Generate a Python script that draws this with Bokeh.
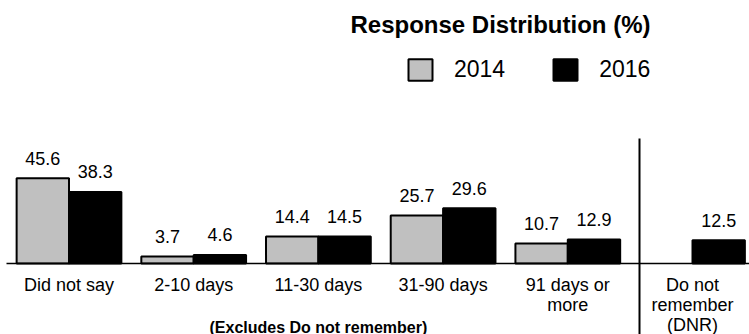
import math
from bokeh.plotting import figure
from bokeh.models import ColumnDataSource, Range1d, Label, Legend, LegendItem
from bokeh.transform import dodge
from bokeh.core.properties import value
from bokeh.embed import file_html
from bokeh.resources import INLINE

# ---- data ----
categories = ["Did not say", "2-10 days", "11-30 days", "31-90 days",
              "91 days or\nmore", "Do not\nremember\n(DNR)"]
years = ["2014", "2016"]
values_2014 = [45.6, 3.7, 14.4, 25.7, 10.7, float("nan")]
values_2016 = [38.3, 4.6, 14.5, 29.6, 12.9, 12.5]
title_text = "Response Distribution (%)"
note_text = "(Excludes Do not remember)"

# ---- geometry ----
W, H = 749, 334
PX_PER_CAT = 124.7
PX_PER_UNIT = 1.87
first_center_px = 68.5
base_px = 263
x_start = -first_center_px / PX_PER_CAT
x_end = x_start + W / PX_PER_CAT
y_end = base_px / PX_PER_UNIT
y_start = -(H - base_px) / PX_PER_UNIT
bw = 0.42
FONT = "Liberation Sans"


def fmt(v):
    return "" if math.isnan(v) else f"{v:.1f}"


pos = list(range(len(categories)))
src = ColumnDataSource(dict(
    x=pos, cat=categories, v14=values_2014, v16=values_2016,
    l14=[fmt(v) for v in values_2014], l16=[fmt(v) for v in values_2016],
    zero=[0] * len(pos)))

p = figure(width=W, height=H, x_range=Range1d(x_start, x_end),
           y_range=Range1d(y_start, y_end), output_backend="svg",
           toolbar_location=None, tools="", min_border=0,
           x_axis_location=None, y_axis_location=None)
p.grid.visible = False
p.outline_line_color = None

r14 = p.vbar(x=dodge("x", -bw / 2, range=p.x_range), top="v14", bottom=0, width=bw,
             source=src, fill_color="#c0c0c0", line_color="black", line_width=2)
r16 = p.vbar(x=dodge("x", bw / 2, range=p.x_range), top="v16", bottom=0, width=bw,
             source=src, fill_color="black", line_color="black", line_width=2)

# baseline
p.segment(x0=[x_start + 6 / PX_PER_CAT], y0=[0], x1=[x_end], y1=[0],
          line_color="black", line_width=1.5)

# divider between the main groups and DNR
div_x = len(categories) - 1.5 + 0.075
div_top = 66.8
p.segment(x0=[div_x], y0=[y_start], x1=[div_x], y1=[div_top],
          line_color="black", line_width=2)

# value labels
for col, lab, off in (("v14", "l14", -bw / 2), ("v16", "l16", bw / 2)):
    p.text(x=dodge("x", off, range=p.x_range), y=col, text=lab, source=src,
           text_align="center", text_baseline="alphabetic", y_offset=-20,
           text_font=value(FONT), text_font_size="18px", text_color="black")

# category labels
p.text(x="x", y="zero", text="cat", source=src, text_align="center",
       text_baseline="top", y_offset=11, text_line_height=1.02,
       text_font=value(FONT), text_font_size="18px", text_color="black")

p.add_layout(Label(x=(len(categories) - 2) / 2, y=7.5, x_units="data", y_units="screen",
                   text=note_text, text_align="center", text_baseline="alphabetic",
                   text_font=FONT, text_font_size="16px", text_font_style="bold",
                   text_color="black"))

p.add_layout(Label(x=500, y=H - 24, x_units="screen", y_units="screen",
                   text=title_text, text_align="center", text_baseline="alphabetic",
                   text_font=FONT, text_font_size="24px", text_font_style="bold",
                   text_color="black"))

legend = Legend(items=[LegendItem(label=value(years[0]), renderers=[r14]),
                       LegendItem(label=value(years[1]), renderers=[r16])],
                orientation="horizontal", location=(405, H - 56 - 27),
                glyph_width=30, glyph_height=27, label_standoff=19, spacing=45,
                padding=0, margin=0, border_line_color=None,
                background_fill_alpha=0, label_text_font=FONT,
                label_text_font_size="23px", label_text_color="black")
p.add_layout(legend)

open("out.html", "w").write(file_html(p, INLINE))
